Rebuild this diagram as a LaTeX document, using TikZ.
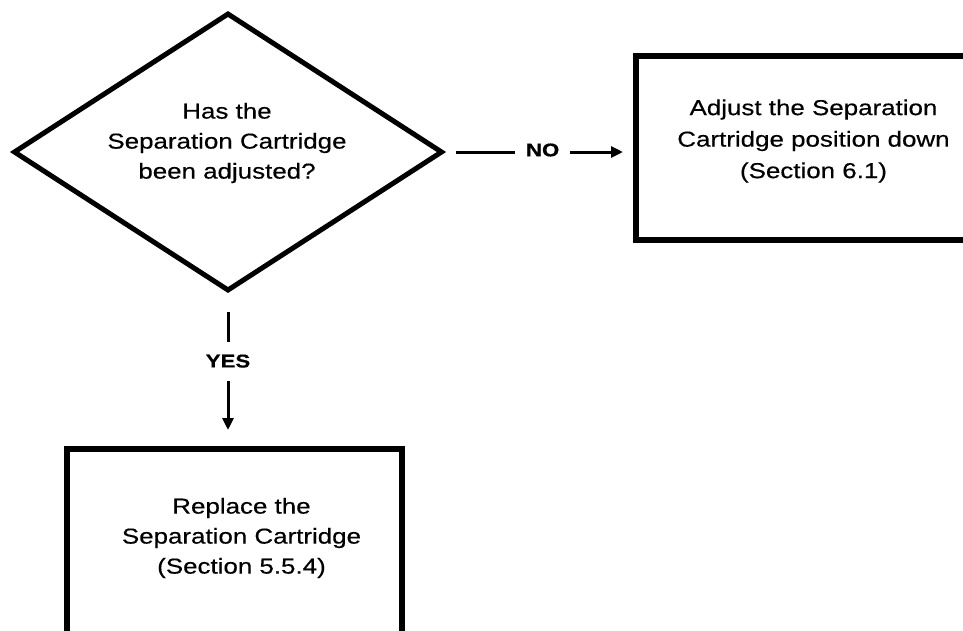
\documentclass[tikz,border=0pt]{standalone}
\usepackage{fontspec}
\setmainfont[FakeStretch=1.2,FakeBold=0.4]{Liberation Sans}
\usetikzlibrary{shapes.geometric,arrows.meta}
\begin{document}
\begin{tikzpicture}[x=1pt,y=-1pt,
  decision/.style={draw,diamond,line width=5pt,inner sep=0pt,outer sep=0pt,
    minimum width=427pt,minimum height=276pt},
  action/.style={draw,rectangle,line width=5.5pt,inner sep=0pt,outer sep=0pt},
  flowtext/.style={align=center,font=\fontsize{21.6}{30}\selectfont,inner sep=0pt},
  flow/.style={line width=3pt,-{Triangle[length=12pt,width=11pt]}},
  answer/.style={font=\bfseries\fontsize{18.5}{20}\selectfont,fill=white,inner sep=0pt}
]
\useasboundingbox (0,0) rectangle (963,630);
\clip (0,0) rectangle (963,630);

% shapes
\node[decision] (q) at (228,152) {};
\node[action,minimum width=354pt,minimum height=184pt] (adj) at (813,148) {};
\node[action,minimum width=335pt,minimum height=262pt] (rep) at (234.5,580) {};

% texts
\node[flowtext] (qtext) at (227,143) {Has the\\Separation Cartridge\\been adjusted?};
\node[flowtext,font=\fontsize{21.6}{31.5}\selectfont] (adjtext) at (813.5,141) {Adjust the Separation\\Cartridge position down\\(Section 6.1)};
\node[flowtext] (reptext) at (241.5,538) {Replace the\\Separation Cartridge\\(Section 5.5.4)};

% connectors
\draw[flow,shorten <=14.5pt,shorten >=13pt] (q.east) --
  node[answer,pos=0.52,inner xsep=11pt,yshift=2pt] (no) {NO} (q.east -| adj.west);
\draw[flow,shorten <=22pt,shorten >=19pt] (q.south) --
  node[answer,pos=0.447,inner ysep=13pt] (yes) {YES} (q.south |- rep.north);
\end{tikzpicture}
\end{document}
